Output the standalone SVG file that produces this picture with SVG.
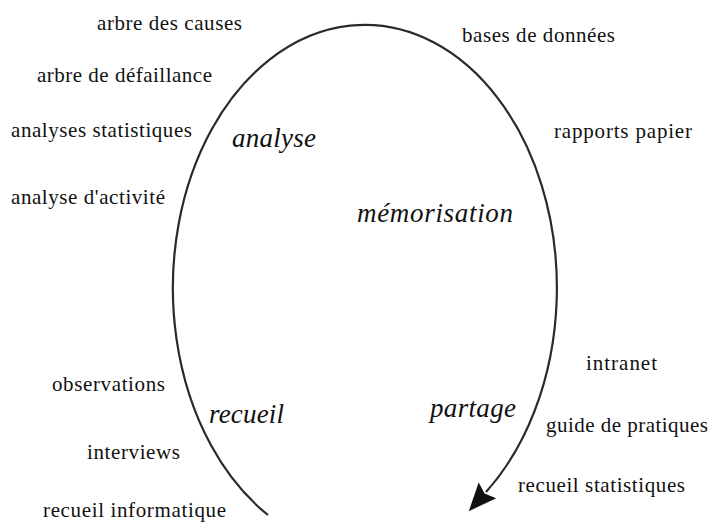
<svg xmlns="http://www.w3.org/2000/svg" width="710" height="522" viewBox="0 0 710 522">
  <style>
    .item { font-family: "Liberation Serif", "Times New Roman", serif; font-size: 21px; fill: #111; }
    .phase { font-family: "Liberation Serif", "Times New Roman", serif; font-size: 27px; font-style: italic; fill: #111; }
    .cycle { fill: none; stroke: #2a2a2a; stroke-width: 2.2; }
  </style>
  <defs>
    <marker id="arrow" markerUnits="userSpaceOnUse" markerWidth="30" markerHeight="26" viewBox="0 -12 28 24" refX="2" refY="0" orient="auto">
      <path d="M0,-11 L26,0 L0,11 L4,0 Z" fill="#111"/>
    </marker>
  </defs>

  <rect width="710" height="522" fill="#fff"/>

  <!-- the cycle: an elliptical arc running clockwise, ending in an arrowhead -->
  <g id="connectors">
    <path class="cycle" d="M268,515 A192,263 0 1 1 486,492" marker-end="url(#arrow)"/>
  </g>

  <!-- phase labels inside the cycle -->
  <g id="phase-analyse"><text class="phase" x="232" y="147" textLength="84">analyse</text></g>
  <g id="phase-memorisation"><text class="phase" x="357" y="222" textLength="156">mémorisation</text></g>
  <g id="phase-recueil"><text class="phase" x="209" y="423" textLength="75">recueil</text></g>
  <g id="phase-partage"><text class="phase" x="430" y="417" textLength="86">partage</text></g>

  <!-- analysis tools -->
  <g id="analyse-items">
    <text class="item" x="97" y="30" textLength="145">arbre des causes</text>
    <text class="item" x="37" y="82" textLength="175">arbre de défaillance</text>
    <text class="item" x="11" y="137" textLength="181">analyses statistiques</text>
    <text class="item" x="11" y="204" textLength="154">analyse d'activité</text>
  </g>

  <!-- storage media -->
  <g id="memorisation-items">
    <text class="item" x="462" y="42" textLength="153">bases de données</text>
    <text class="item" x="554" y="138" textLength="138">rapports papier</text>
  </g>

  <!-- collection methods -->
  <g id="recueil-items">
    <text class="item" x="52" y="391" textLength="113">observations</text>
    <text class="item" x="87" y="459" textLength="93">interviews</text>
    <text class="item" x="43" y="517" textLength="183">recueil informatique</text>
  </g>

  <!-- sharing channels -->
  <g id="partage-items">
    <text class="item" x="586" y="370" textLength="71">intranet</text>
    <text class="item" x="546" y="432" textLength="162">guide de pratiques</text>
    <text class="item" x="518" y="492" textLength="167">recueil statistiques</text>
  </g>
</svg>
